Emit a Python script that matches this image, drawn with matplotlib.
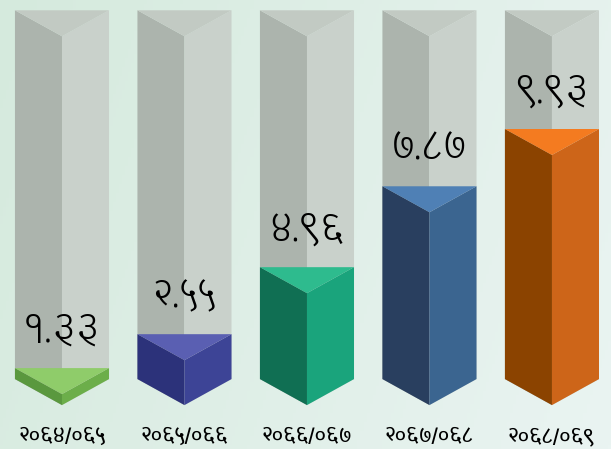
import numpy as np
import matplotlib.pyplot as plt
from matplotlib.patches import Polygon

# data
years = ['२०६४/०६५', '२०६५/०६६', '२०६६/०६७', '२०६७/०६८', '२०६८/०६९']
values = [1.33, 2.55, 4.96, 7.87, 9.93]
value_labels = ['१.३३', '२.५५', '४.९६', '७.८७', '९.९३']
full_value = 14.2

# face colours: top, left, right
top_cols = ['#8fcc6a', '#5a5fb2', '#2ebb8e', '#4f80b5', '#f47b20']
left_cols = ['#5a983e', '#2c327a', '#106f53', '#293f5f', '#8b4300']
right_cols = ['#6cae4a', '#3d4496', '#1aa47c', '#3b6590', '#cd6519']

plt.rcParams['font.family'] = ['Glegoo', 'DejaVu Sans']

fig = plt.figure(figsize=(6.11, 4.49), dpi=100)
ax = fig.add_axes([0, 0, 1, 1])
ax.set_xlim(-0.506, 4.482)
ax.set_ylim(-1.58, 14.57)
ax.axis('off')

# background gradient
gx = np.linspace(0, 1, 200)
gy = np.linspace(0, 1, 100)
X, Y = np.meshgrid(gx, gy)
c0 = np.array([0xd5, 0xea, 0xdd]) / 255
c1 = np.array([0xea, 0xf4, 0xf2]) / 255
t = np.clip(0.8 * X + 0.2 * Y, 0, 1)[..., None]
bg = c0 * (1 - t) + c1 * t
ax.imshow(bg, extent=(-0.506, 4.482, -1.58, 14.57), aspect='auto', zorder=0, origin='upper')

w = 0.384
d = 0.935


def prism(c, v, top, left, right, z):
    ax.add_patch(Polygon([(c - w, v), (c, v - d), (c, 0), (c - w, d)],
                         closed=True, fc=left, ec='none', zorder=z))
    ax.add_patch(Polygon([(c, v - d), (c + w, v), (c + w, d), (c, 0)],
                         closed=True, fc=right, ec='none', zorder=z))
    ax.add_patch(Polygon([(c - w, v), (c + w, v), (c, v - d)],
                         closed=True, fc=top, ec='none', zorder=z))


for i, v in enumerate(values):
    prism(i, full_value, '#c2cac3', '#acb4ad', '#c9d1cb', 1)
    prism(i, v, top_cols[i], left_cols[i], right_cols[i], 2)
    ax.text(i, v + 1.3, value_labels[i], ha='center', va='center',
            fontsize=25, color='black', zorder=3)
    ax.text(i, -1.15, years[i], ha='center', va='center',
            fontsize=13.5, fontweight='bold', color='black', zorder=3)

fig.savefig('out.png', dpi=100)
